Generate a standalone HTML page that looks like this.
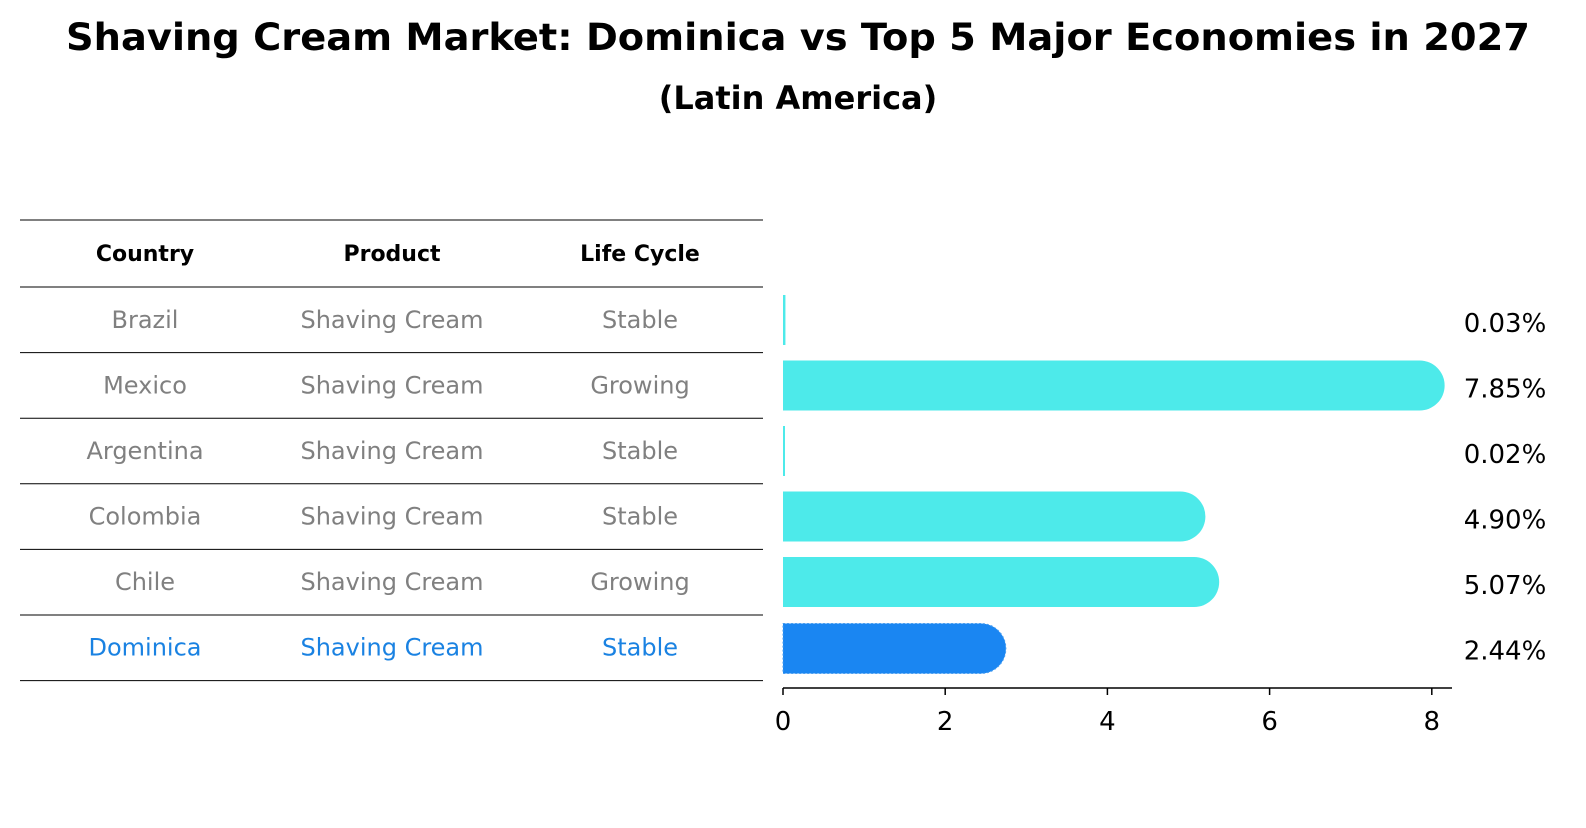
<!DOCTYPE html>
<html><head><meta charset="utf-8"><style>
body{margin:0;background:#fff;font-family:"Liberation Sans","DejaVu Sans",sans-serif}
svg text{font-family:"DejaVu Sans","Liberation Sans",sans-serif}
</style></head><body>
<svg width="1586" height="823">
<text x="798" y="50" text-anchor="middle" font-size="37" font-weight="bold" textLength="1464" lengthAdjust="spacingAndGlyphs">Shaving Cream Market: Dominica vs Top 5 Major Economies in 2027</text>
<text x="798" y="109" text-anchor="middle" font-size="32" font-weight="bold">(Latin America)</text>
<g id="table"></g>
<g id="bars"></g>
</svg>
<script>
const countries=["Brazil","Mexico","Argentina","Colombia","Chile","Dominica"];
const products=["Shaving Cream","Shaving Cream","Shaving Cream","Shaving Cream","Shaving Cream","Shaving Cream"];
const lifeCycles=["Stable","Growing","Stable","Stable","Growing","Stable"];
const values=[0.03,7.85,0.02,4.90,5.07,2.44];
const ticks=[0,2,4,6,8];
const NS="http://www.w3.org/2000/svg";
function mk(t,a,p){const e=document.createElementNS(NS,t);for(const k in a)e.setAttribute(k,a[k]);p.appendChild(e);return e;}
const tb=document.getElementById('table'),bg=document.getElementById('bars');
const rowY=i=>320+i*65.5;
const xs=x=>783+x*81.1;
const cols=[145,392,640];
let l=mk('line',{x1:20,x2:763,y1:220,y2:220,stroke:'#000','stroke-width':1},tb);

["Country","Product","Life Cycle"].forEach((h,j)=>{const t=mk('text',{x:cols[j],y:261,'text-anchor':'middle','font-size':22,'font-weight':'bold'},tb);t.textContent=h;
});
for(let i=0;i<=countries.length;i++){const y=287+i*65.6;const ln=mk('line',{x1:20,x2:763,y1:y,y2:y,stroke:'#000','stroke-width':1},tb);
}
countries.forEach((c,i)=>{const col=i==countries.length-1?'#1a82e2':'#808080';
[c,products[i],lifeCycles[i]].forEach((v,j)=>{const t=mk('text',{x:cols[j],y:rowY(i)+8,'text-anchor':'middle','font-size':24,fill:col},tb);t.textContent=v;
});
const w=xs(values[i])-xs(0),h=50,y0=rowY(i)-h/2+(i==5?1:0);const x0=xs(0);
let d;
if(w<6){d=`M${x0},${y0}H${x0+Math.max(w,2)}V${y0+h}H${x0}Z`;}
else{const r=h/2;d=`M${x0},${y0}H${x0+w}A${r},${r} 0 0 1 ${x0+w},${y0+h}H${x0}Z`;d=`M${x0},${y0}H${x0+w}A${r},${r} 0 0 1 ${x0+w+r},${y0+r}A${r},${r} 0 0 1 ${x0+w},${y0+h}H${x0}Z`;}
const p=mk('path',{d:d,fill:i==5?'#1a86f2':'#4deaea'},bg);
if(i==5){p.setAttribute('stroke','#4a9ef0');p.setAttribute('stroke-dasharray','2 2');}

const t=mk('text',{x:1505,y:rowY(i)+12,'text-anchor':'middle','font-size':26},bg);t.textContent=values[i].toFixed(2)+'%';
});
const ax=mk('line',{x1:783,x2:1452,y1:688,y2:688,stroke:'#000','stroke-width':1.5},bg);

ticks.forEach(v=>{const tk=mk('line',{x1:xs(v),x2:xs(v),y1:688,y2:695,stroke:'#000','stroke-width':1.5},bg);

const t=mk('text',{x:xs(v),y:730,'text-anchor':'middle','font-size':26},bg);t.textContent=v;
});
</script>
</body></html>
